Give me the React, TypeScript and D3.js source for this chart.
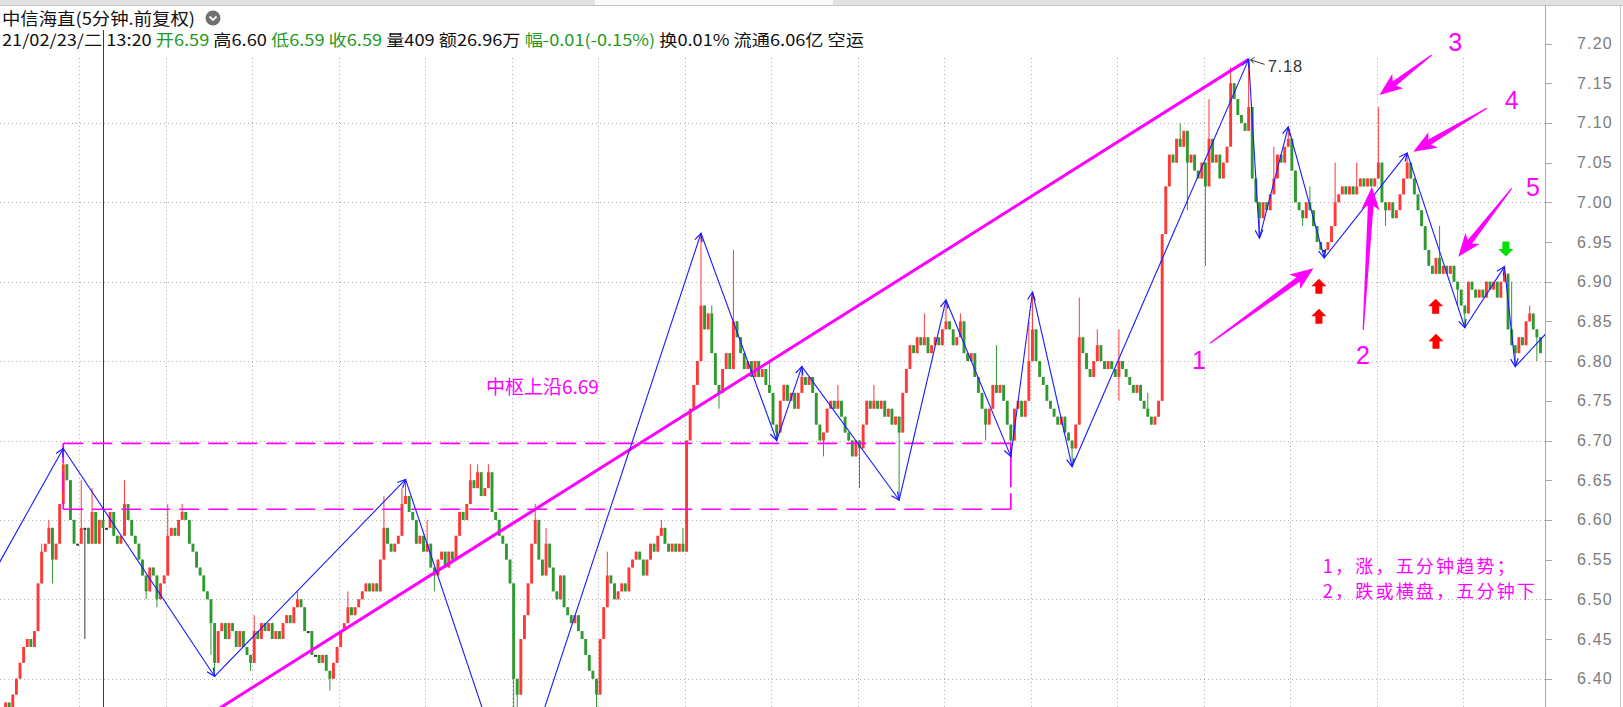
import React from 'react';
import * as d3 from 'd3';

// ---------------- DATA ----------------
// closes in cents, one per 5-minute candle; open = previous close
const closes: number[] = [
  636,637,636,638,640,642,644,645,644,646,652,656,657,659,655,657,662,667,665,660,657,657,659,659,
  657,661,657,660,659,659,661,658,657,658,662,660,658,657,655,653,651,654,653,650,652,653,658,659,658,660,661,660,657,656,654,653,651,650,
  647,642,646,647,645,647,646,644,646,644,643,642,646,645,647,646,647,645,646,645,647,648,647,649,650,649,646,646,643,643,642,643,641,640,642,644,646,647,649,648,649,650,651,652,651,652,651,655,659,657,656,657,658,662,
  663,661,660,657,658,656,657,654,653,655,656,654,656,655,658,661,660,662,665,664,666,663,664,666,661,660,658,657,655,652,640,638,645,648,652,657,660,655,653,657,654,651,650,653,649,648,647,648,646,645,643,641,640,638,645,649,653,652,650,651,652,651,654,655,656,655,653,655,657,656,658,659,657,656,657,656,657,656,
  670,674,677,680,687,684,686,681,677,676,679,681,679,685,683,681,679,680,678,680,678,679,677,676,672,671,675,677,675,676,674,676,678,677,678,676,672,670,671,674,675,674,675,673,671,670,668,670,669,672,675,674,675,674,675,673,674,672,673,671,
  676,679,682,681,683,682,683,681,682,683,682,684,685,684,682,683,685,681,680,681,678,676,674,672,674,677,676,677,675,672,670,674,675,673,675,680,684,680,678,677,675,674,673,672,673,671,670,669,672,683,681,679,678,680,682,680,679,680,679,678,680,679,678,677,676,677,675,674,673,672,673,675,
  696,702,706,705,708,707,709,705,706,704,703,705,702,708,705,706,703,705,707,715,713,711,710,709,712,703,700,698,700,699,701,703,706,705,707,708,704,700,699,698,700,699,697,695,694,694,695,697,700,701,702,701,702,701,702,703,702,703,702,703,705,700,699,700,698,699,701,703,
  705,703,701,699,697,694,692,691,693,691,692,691,692,690,689,687,686,690,689,688,689,688,690,689,690,688,690,691,684,682,681,683,682,685,686,684,683,681,
];
const firstOpen = 6.35;
const highWicks: [number, number][] = [
  [11, 6.57], [13, 6.60], [17, 6.695], [22, 6.65], [25, 6.64], [27, 6.60], [28, 6.60], [34, 6.65], [46, 6.62],
  [50, 6.62], [58, 6.50], [70, 6.48], [82, 6.51], [96, 6.51], [106, 6.63], [111, 6.64], [112, 6.651], [118, 6.60],
  [130, 6.67], [132, 6.67], [135, 6.67], [148, 6.62], [151, 6.59], [168, 6.56], [183, 6.60], [189, 6.59],
  [194, 6.96], [197, 6.87], [203, 6.94], [213, 6.80], [222, 6.793], [232, 6.77], [242, 6.77], [256, 6.86],
  [262, 6.877], [266, 6.86], [276, 6.82], [285, 6.85], [286, 6.887], [299, 6.88], [304, 6.84], [310, 6.84],
  [318, 6.76], [327, 7.10], [335, 7.13], [341, 7.17], [346, 7.18], [353, 7.07], [357, 7.095], [363, 7.02],
  [370, 7.05], [376, 7.05], [382, 7.12], [390, 7.062], [399, 6.97], [417, 6.919], [419, 6.90], [424, 6.87],
];
const lowWicks: [number, number][] = [
  [14, 6.52], [23, 6.45], [40, 6.50], [43, 6.49], [58, 6.43], [59, 6.403], [69, 6.41], [91, 6.385], [120, 6.51],
  [142, 6.245], [143, 6.30], [165, 6.36], [199, 6.74], [215, 6.70], [228, 6.68], [238, 6.64], [249, 6.625],
  [273, 6.70], [280, 6.68], [297, 6.667], [310, 6.75], [329, 6.99], [334, 6.92], [349, 6.955], [361, 6.97],
  [367, 6.93], [384, 6.97], [404, 6.87], [406, 6.842], [420, 6.793], [426, 6.80],
];
// zigzag vertices [candle index, price]
const zigzag: [number, number][] = [
  [-1, 6.544], [17, 6.69], [59, 6.403], [112, 6.651], [142, 6.245], [194, 6.961], [215, 6.70], [222, 6.793],
  [249, 6.625], [262, 6.877], [280, 6.68], [286, 6.887], [297, 6.667], [346, 7.18], [349, 6.955], [357, 7.095],
  [367, 6.93], [390, 7.062], [406, 6.842], [417, 6.919], [420, 6.793], [429, 6.837],
];
const trendLine: [number, number][] = [[0, 6.19], [346, 7.18]];
const centerBox = { i0: 17, i1: 280, top: 6.6965, bottom: 6.6134 };
const peakLabel = { i: 346, p: 7.18, text: '7.18' };
const yTicks = [6.40, 6.45, 6.50, 6.55, 6.60, 6.65, 6.70, 6.75, 6.80, 6.85, 6.90, 6.95, 7.00, 7.05, 7.10, 7.15, 7.20];
const gridPrices = [6.40, 6.50, 6.60, 6.70, 6.80, 6.90, 7.00, 7.10];
const gridIdx = [21.5, 45.5, 69.5, 93.5, 117.5, 141.5, 165.5, 189.5, 213.5, 237.5, 261.5, 285.5, 309.5, 333.5, 357.5, 381.5, 405.5];
const cursorIdx = 28;
// magenta tapered arrows: [tailIdx, tailPrice, tipIdx, tipPrice]
const pinkArrows: [number, number, number, number][] = [
  [335.3, 6.8224, 364.0, 6.9169],
  [377.8, 6.8392, 380.2, 7.0196],
  [396.8, 7.1855, 382.3, 7.1351],
  [412.1, 7.1184, 391.7, 7.0637],
  [419.0, 7.0176, 404.2, 6.9315],
];
const pinkNumbers: [string, number, number][] = [
  ['1', 332.2, 6.8014], ['2', 377.7, 6.8077], ['3', 403.3, 7.2023], ['4', 419.0, 7.1288], ['5', 424.9, 7.0196],
];
const redUpArrows: [number, number][] = [[365.5, 6.8937], [365.5, 6.856], [397.9, 6.8685], [398.0, 6.8244]];
const greenDownArrows: [number, number][] = [[417.4, 6.9418]];
const boxLabel = { text: '中枢上沿6.69', i: 134.3, p: 6.7677 };
const noteLines: [string, number, number][] = [
  ['1，涨，五分钟趋势；', 366.6, 6.541],
  ['2，跌或横盘，五分钟下', 366.6, 6.5096],
];
const title = '中信海直(5分钟.前复权)';
const infoItems: [string, string][] = [
  ['21/02/23/二 ', 'k'], ['13:20 ', 'k'], ['开6.59 ', 'g'], ['高6.60 ', 'k'], ['低6.59 ', 'g'], ['收6.59 ', 'g'],
  ['量409 ', 'k'], ['额26.96万 ', 'k'], ['幅-0.01(-0.15%) ', 'g'], ['换0.01% ', 'k'], ['流通6.06亿 ', 'k'], ['空运', 'k'],
];

// ---------------- STYLE ----------------
const STEP = 3.603;
const RED = '#ff3838';
const GREEN = '#2f9a2f';
const DARK = '#383838';
const PINK = '#ff00ff';
const BLUE = '#1a1aff';
const CJK = '"Noto Sans CJK SC", "Noto Sans", sans-serif';
const LAT = '"Liberation Sans", Arial, sans-serif';

function taper(t: [number, number], h: [number, number], headLen = 19, headHalf = 9, shaftHalf = 2.8) {
  const dx = h[0] - t[0], dy = h[1] - t[1];
  const L = Math.hypot(dx, dy);
  const ux = dx / L, uy = dy / L, nx = -uy, ny = ux;
  const bx = h[0] - ux * headLen, by = h[1] - uy * headLen;
  const pts = [
    [t[0] + nx * 0.6, t[1] + ny * 0.6],
    [bx + nx * shaftHalf, by + ny * shaftHalf],
    [bx - ux * 4 + nx * headHalf, by - uy * 4 + ny * headHalf],
    [h[0], h[1]],
    [bx - ux * 4 - nx * headHalf, by - uy * 4 - ny * headHalf],
    [bx - nx * shaftHalf, by - ny * shaftHalf],
    [t[0] - nx * 0.6, t[1] - ny * 0.6],
  ];
  return 'M' + pts.map(p => p[0].toFixed(1) + ',' + p[1].toFixed(1)).join('L') + 'Z';
}

function blockArrow(cx: number, cy: number, up: boolean) {
  const s = up ? 1 : -1;
  const pts = [
    [cx, cy - 8 * s], [cx + 7.5, cy - 0.5 * s], [cx + 3.5, cy - 0.5 * s], [cx + 3.5, cy + 7 * s],
    [cx - 3.5, cy + 7 * s], [cx - 3.5, cy - 0.5 * s], [cx - 7.5, cy - 0.5 * s],
  ];
  return 'M' + pts.map(p => p[0] + ',' + p[1]).join('L') + 'Z';
}

export default function App() {
  const x = d3.scaleLinear().domain([0, 427]).range([2, 2 + 427 * STEP]);
  const y = d3.scaleLinear().domain([6.40, 7.20]).range([678.7, 43.5]);
  const hiMap = new Map(highWicks);
  const loMap = new Map(lowWicks);
  const candles = closes.map((cc, i) => {
    const o = i === 0 ? firstOpen : closes[i - 1] / 100;
    const c = cc / 100;
    const hi = Math.max(o, c, hiMap.get(i) ?? 0);
    const lo = Math.min(o, c, loMap.get(i) ?? 99);
    return { i, o, c, hi, lo };
  });
  const axisX = 1545;
  const bw = 2.9;
  const line = d3.line<[number, number]>().x(d => x(d[0])).y(d => y(d[1]));
  const bx0 = x(centerBox.i0), bx1 = x(centerBox.i1);
  const byT = y(centerBox.top), byB = y(centerBox.bottom);

  return (
    <div style={{ position: 'fixed', left: 0, top: 0, width: 1623, height: 707, background: '#fff' }}>
      <svg width={1623} height={707} style={{ display: 'block' }}>
        <defs>
          <clipPath id="plot"><rect x={0} y={6} width={axisX} height={701} /></clipPath>
          <marker id="ah" viewBox="-10 -6 12 12" refX={0} refY={0} markerWidth={12} markerHeight={12}
            markerUnits="userSpaceOnUse" orient="auto">
            <path d="M-8,-3.8L0,0L-8,3.8" fill="none" stroke={BLUE} strokeWidth={1.2} />
          </marker>
        </defs>
        <rect x={0} y={0} width={1623} height={707} fill="#fff" />
        {/* top tab strip */}
        <rect x={0} y={0} width={1623} height={5} fill="#e2e2e2" />
        <rect x={595} y={0} width={238} height={5} fill="#fafafa" />
        <line x1={0} x2={1623} y1={5.5} y2={5.5} stroke="#c4c4c4" />

        {/* grid */}
        <g stroke="#b4b4b4" strokeWidth={1} strokeDasharray="1,3">
          {gridPrices.map(p => (
            <line key={'h' + p} x1={0} x2={axisX} y1={Math.round(y(p)) + 0.5} y2={Math.round(y(p)) + 0.5} />
          ))}
          {gridIdx.map(g => (
            <line key={'v' + g} x1={Math.round(x(g)) + 0.5} x2={Math.round(x(g)) + 0.5} y1={58} y2={707} />
          ))}
        </g>

        {/* header */}
        <text x={2} y={25} fontFamily={CJK} fontSize={17} fill="#111" textLength={193} lengthAdjust="spacingAndGlyphs">{title}</text>
        <circle cx={213} cy={18} r={7.5} fill="#707070" />
        <path d="M209.5,16.5L213,20L216.5,16.5" fill="none" stroke="#fff" strokeWidth={1.8} />
        <text x={2} y={46} fontFamily={CJK} fontSize={16} textLength={862} lengthAdjust="spacingAndGlyphs" xmlSpace="preserve">
          {infoItems.map(([t, c], k) => (
            <tspan key={k} fill={c === 'g' ? '#1f9a1f' : '#111'}>{t}</tspan>
          ))}
        </text>

        {/* cursor line */}
        <line x1={Math.round(x(cursorIdx)) + 0.5} x2={Math.round(x(cursorIdx)) + 0.5} y1={30} y2={707} stroke="#3a3a3a" strokeWidth={1} />

        <g clipPath="url(#plot)">
          {/* candles */}
          {candles.map(d => {
            const col = d.c > d.o ? RED : d.c < d.o ? GREEN : DARK;
            const cx = x(d.i);
            const yt = y(Math.max(d.o, d.c));
            const yb = y(Math.min(d.o, d.c));
            return (
              <g key={d.i}>
                <line x1={cx} x2={cx} y1={y(d.hi)} y2={y(d.lo)} stroke={col} strokeWidth={1} />
                <rect x={cx - bw / 2} y={yt} width={bw} height={Math.max(yb - yt, 2)} fill={col} />
              </g>
            );
          })}

          {/* center box */}
          <g stroke={PINK} strokeWidth={1.7} fill="none">
            <line x1={bx0} x2={bx1} y1={byT} y2={byT} strokeDasharray="20,9" />
            <line x1={bx0} x2={bx1} y1={byB} y2={byB} strokeDasharray="20,9" />
            <line x1={bx0} x2={bx0} y1={byT} y2={byB} strokeDasharray="20,9" />
            <line x1={bx1} x2={bx1} y1={byT} y2={byB} strokeDasharray="44,6" />
          </g>

          {/* trend line */}
          <path d={line(trendLine) || ''} stroke={PINK} strokeWidth={3} fill="none" />

          {/* zigzag */}
          {zigzag.slice(1).map((v, k) => {
            const a = zigzag[k];
            const last = k === zigzag.length - 2;
            return (
              <line key={'z' + k} x1={x(a[0])} y1={y(a[1])} x2={x(v[0])} y2={y(v[1])} stroke={BLUE}
                strokeWidth={1.1} markerEnd={last ? undefined : 'url(#ah)'} />
            );
          })}

          {/* peak label */}
          <line x1={x(peakLabel.i) + 2} y1={y(peakLabel.p) + 0.5} x2={x(peakLabel.i) + 16} y2={y(peakLabel.p) + 5} stroke="#333" strokeWidth={1} />
          <path d={`M${x(peakLabel.i) + 6},${y(peakLabel.p) - 2}L${x(peakLabel.i) + 2},${y(peakLabel.p) + 0.5}L${x(peakLabel.i) + 5},${y(peakLabel.p) + 4}`} stroke="#333" fill="none" />
          <text x={x(peakLabel.i) + 19} y={y(peakLabel.p) + 13} fontFamily={LAT} fontSize={16.5} fill="#333" letterSpacing={0.8}>{peakLabel.text}</text>

          {/* annotations */}
          <text x={x(boxLabel.i)} y={y(boxLabel.p) + 7} fontFamily={CJK} fontSize={19} fill={PINK}>{boxLabel.text}</text>
          {pinkArrows.map((a, k) => (
            <path key={'pa' + k} d={taper([x(a[0]), y(a[1])], [x(a[2]), y(a[3])])} fill={PINK} />
          ))}
          {pinkNumbers.map(([t, i, p]) => (
            <text key={'pn' + t} x={x(i)} y={y(p) + 9} fontFamily={LAT} fontSize={25} fill={PINK} textAnchor="middle">{t}</text>
          ))}
          {redUpArrows.map(([i, p], k) => (
            <path key={'ru' + k} d={blockArrow(x(i), y(p), true)} fill="#ff0000" />
          ))}
          {greenDownArrows.map(([i, p], k) => (
            <path key={'gd' + k} d={blockArrow(x(i), y(p), false)} fill="#00e000" />
          ))}
          {noteLines.map(([t, i, p]) => (
            <text key={t} x={x(i)} y={y(p) + 6.5} fontFamily={CJK} fontSize={18} letterSpacing={2.2} fill={PINK}>{t}</text>
          ))}
        </g>

        {/* right axis */}
        <line x1={axisX + 0.5} x2={axisX + 0.5} y1={5} y2={707} stroke="#a8a8a8" />
        <line x1={1620.5} x2={1620.5} y1={5} y2={707} stroke="#c8c8c8" />
        {yTicks.map(t => (
          <g key={'t' + t}>
            <line x1={axisX} x2={axisX + 7} y1={Math.round(y(t)) + 0.5} y2={Math.round(y(t)) + 0.5} stroke="#a8a8a8" />
            <text x={1577} y={y(t) + 5.5} fontFamily={LAT} fontSize={16} fill="#7c7c7c" letterSpacing={1.2}>{t.toFixed(2)}</text>
          </g>
        ))}
      </svg>
    </div>
  );
}
